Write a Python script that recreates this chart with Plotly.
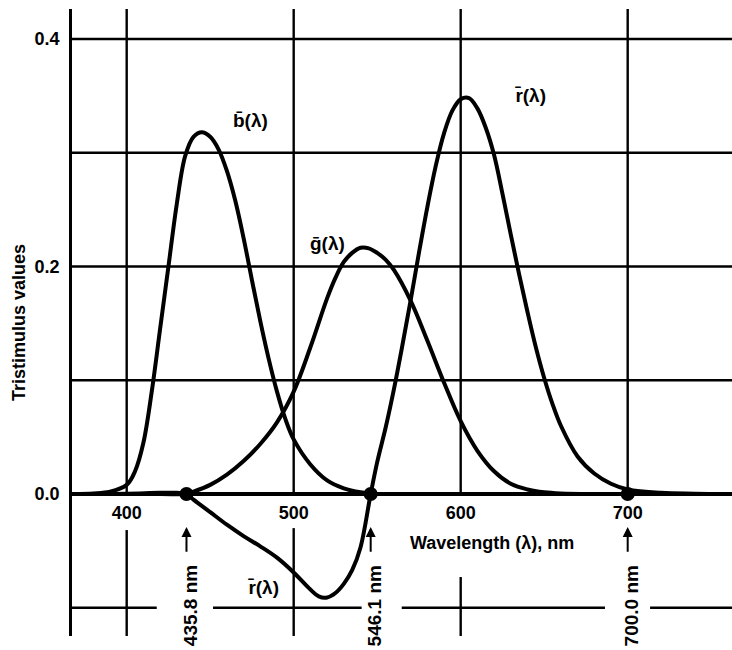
import plotly.graph_objects as go

# ---------------- data ----------------
WL_B = [368, 380, 390, 400, 405, 410, 415, 420, 425, 430, 435, 440, 445, 450, 455, 460,
        465, 470, 475, 480, 485, 490, 495, 500, 510, 520, 530, 540, 550, 560, 600, 762]
B_BAR = [0, 0.0005, 0.002, 0.008, 0.020, 0.045, 0.090, 0.145, 0.200, 0.255, 0.297, 0.314,
         0.318, 0.314, 0.303, 0.284, 0.258, 0.225, 0.188, 0.152, 0.119, 0.090, 0.066, 0.048,
         0.026, 0.012, 0.005, 0.0015, 0, 0, 0, 0]

WL_G = [368, 420, 435.8, 440, 450, 460, 470, 480, 490, 500, 510, 520, 525, 530, 535, 540,
        545, 550, 555, 560, 570, 580, 590, 600, 610, 620, 630, 640, 650, 660, 680, 700, 762]
G_BAR = [0, 0, 0, 0.002, 0.008, 0.017, 0.029, 0.044, 0.063, 0.090, 0.129, 0.172, 0.190,
         0.204, 0.212, 0.2165, 0.216, 0.212, 0.206, 0.197, 0.170, 0.135, 0.098, 0.064,
         0.038, 0.020, 0.009, 0.004, 0.0015, 0.0005, 0, 0, 0]

WL_R = [368, 400, 420, 430, 435.8, 440, 450, 460, 470, 480, 490, 500, 510, 515, 520, 525,
        530, 535, 540, 546.1, 550, 555, 560, 565, 570, 575, 580, 585, 590, 595, 600, 605,
        610, 615, 620, 625, 630, 635, 640, 645, 650, 655, 660, 670, 680, 690, 700, 720,
        740, 762]
R_BAR = [0, 0.0003, 0.001, 0.001, 0, -0.005, -0.016, -0.027, -0.037, -0.046, -0.056, -0.069,
         -0.084, -0.090, -0.091, -0.087, -0.079, -0.067, -0.047, 0, 0.028, 0.058, 0.092,
         0.130, 0.170, 0.212, 0.252, 0.288, 0.317, 0.337, 0.347, 0.348, 0.339, 0.322, 0.298,
         0.264, 0.228, 0.193, 0.160, 0.129, 0.102, 0.079, 0.060, 0.033, 0.018, 0.009, 0.004,
         0.001, 0.0003, 0]

PRIMARIES = [435.8, 546.1, 700.0]
PRIMARY_LABELS = ["435.8 nm", "546.1 nm", "700.0 nm"]

X_TICKS = [400, 500, 600, 700]
Y_TICKS = [0.0, 0.2, 0.4]
Y_TICK_TEXT = ["0.0", "0.2", "0.4"]

CURVE_LABELS = ["b̄(λ)", "ḡ(λ)", "r̄(λ)", "r̄(λ)"]

# ---------------- layout constants ----------------
X_RANGE = [367.25, 762.46]
Y_RANGE = [-0.12484, 0.42637]
FONT = "Liberation Sans"
BLACK = "black"

fig = go.Figure()

# gridlines (drawn as segments because the original grid is interrupted by labels)
shapes = []
for yv in [0.1, 0.2, 0.3, 0.4]:
    shapes.append(dict(type="line", xref="x", yref="y", x0=X_RANGE[0], x1=X_RANGE[1],
                       y0=yv, y1=yv, line=dict(color=BLACK, width=2.4), layer="below"))
for (xa, xb) in [(X_RANGE[0], 418), (451.7, 540.7), (564.7, 686.4), (713.4, X_RANGE[1])]:
    shapes.append(dict(type="line", xref="x", yref="y", x0=xa, x1=xb, y0=-0.1, y1=-0.1,
                       line=dict(color=BLACK, width=2.4), layer="below"))
v_segments = {400: [(0, Y_RANGE[1]), (-0.0317, Y_RANGE[0])],
              500: [(0, Y_RANGE[1]), (-0.030, Y_RANGE[0])],
              600: [(0, Y_RANGE[1]), (-0.073, Y_RANGE[0])],
              700: [(0, Y_RANGE[1])]}
for xv, segs in v_segments.items():
    for (ya, yb) in segs:
        shapes.append(dict(type="line", xref="x", yref="y", x0=xv, x1=xv, y0=ya, y1=yb,
                           line=dict(color=BLACK, width=2.4), layer="below"))
# heavy zero line
shapes.append(dict(type="line", xref="x", yref="y", x0=X_RANGE[0], x1=X_RANGE[1],
                   y0=0, y1=0, line=dict(color=BLACK, width=4), layer="below"))

for wl, vals in [(WL_B, B_BAR), (WL_G, G_BAR), (WL_R, R_BAR)]:
    fig.add_trace(go.Scatter(x=wl, y=vals, mode="lines",
                             line=dict(color=BLACK, width=4, shape="spline", smoothing=1.0),
                             showlegend=False, hoverinfo="skip"))

fig.add_trace(go.Scatter(x=PRIMARIES, y=[0] * len(PRIMARIES), mode="markers",
                         marker=dict(color=BLACK, size=14), showlegend=False))

annotations = []
label_pos = [(474.4, 0.328), (520.2, 0.2198), (641.5, 0.350), (482.2, -0.0826)]
for txt, (lx, ly) in zip(CURVE_LABELS, label_pos):
    annotations.append(dict(x=lx, y=ly, xref="x", yref="y", text=txt, showarrow=False,
                            font=dict(family=FONT, size=19, color=BLACK, weight="bold")))

for wl, txt in zip(PRIMARIES, PRIMARY_LABELS):
    annotations.append(dict(x=wl, y=-0.029, ax=wl, ay=-0.052, xref="x", yref="y",
                            axref="x", ayref="y", text="", showarrow=True, arrowhead=2,
                            arrowsize=1, arrowwidth=2, arrowcolor=BLACK))
    annotations.append(dict(x=wl + 2.2, y=-0.0985, xref="x", yref="y", text=txt,
                            textangle=-90, showarrow=False,
                            font=dict(family=FONT, size=19, color=BLACK, weight="bold")))

annotations.append(dict(x=619.0, y=-0.0431, xref="x", yref="y", text="Wavelength (λ), nm",
                        showarrow=False,
                        font=dict(family=FONT, size=18, color=BLACK, weight="bold")))

fig.update_layout(
    width=732, height=650,
    margin=dict(l=72, r=0, t=9, b=14),
    paper_bgcolor="white", plot_bgcolor="white",
    shapes=shapes, annotations=annotations,
    xaxis=dict(range=X_RANGE, tickvals=X_TICKS, anchor="free", position=0.22648,
               showgrid=False, zeroline=False, showline=False, ticks="",
               ticklabelstandoff=6,
               tickfont=dict(family=FONT, size=18, color=BLACK, weight="bold")),
    yaxis=dict(range=Y_RANGE, tickvals=Y_TICKS, ticktext=Y_TICK_TEXT,
               showgrid=False, zeroline=False, showline=True, linecolor=BLACK, linewidth=2.5,
               ticks="", ticklabelstandoff=6,
               tickfont=dict(family=FONT, size=18, color=BLACK, weight="bold"),
               title=dict(text="Tristimulus values", standoff=5,
                          font=dict(family=FONT, size=18, color=BLACK, weight="bold"))),
)

fig.write_html("out.html")
